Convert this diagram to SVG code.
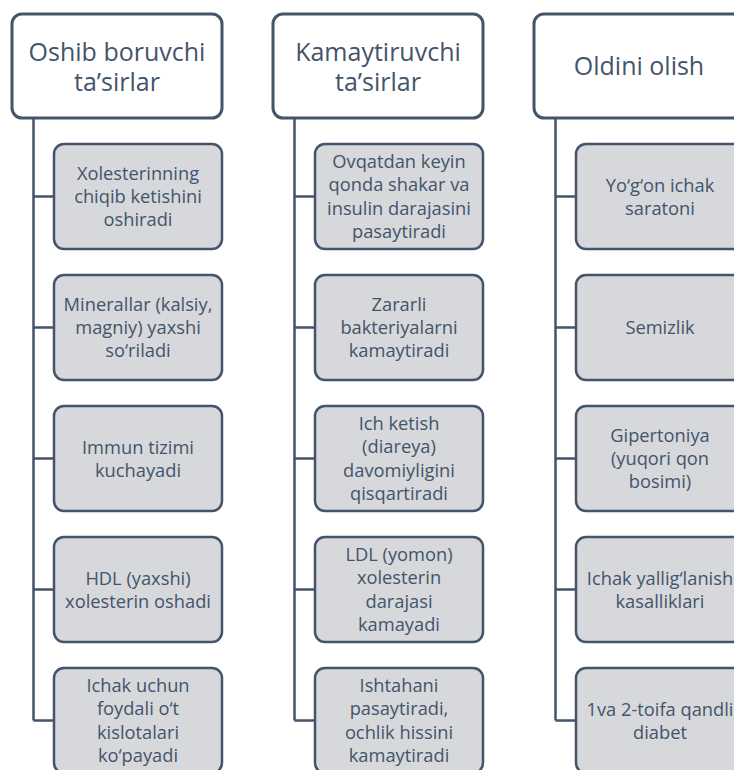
<svg xmlns="http://www.w3.org/2000/svg" width="734" height="770" viewBox="0 0 734 770">
<style>
.hdr{fill:#ffffff;stroke:#44546A;stroke-width:3}
.box{fill:#D6D8DC;stroke:#44546A;stroke-width:2.5}
.ln{stroke:#44546A;stroke-width:2.5;fill:none}
.ht{font-family:"Open Sans","Liberation Sans",sans-serif;font-size:25px;fill:#44546A;text-anchor:middle}
.bt{font-family:"Open Sans","Liberation Sans",sans-serif;font-size:18.3px;fill:#44546A;text-anchor:middle}
</style>
<rect width="734" height="770" fill="#ffffff"/>
<g id="connectors">
<path class="ln" d="M33.5,118 V720.5 M33.5,196.5 H54 M33.5,327.5 H54 M33.5,458.5 H54 M33.5,589.5 H54 M33.5,720.5 H54"/>
<path class="ln" d="M294.5,118 V720.5 M294.5,196.5 H315 M294.5,327.5 H315 M294.5,458.5 H315 M294.5,589.5 H315 M294.5,720.5 H315"/>
<path class="ln" d="M555.5,118 V720.5 M555.5,196.5 H576 M555.5,327.5 H576 M555.5,458.5 H576 M555.5,589.5 H576 M555.5,720.5 H576"/>
</g>
<g id="h1"><rect class="hdr" x="12" y="14" width="210" height="104" rx="10"/><text class="ht" x="117" y="60.5">Oshib boruvchi</text><text class="ht" x="117" y="90.5">ta’sirlar</text></g>
<g id="h2"><rect class="hdr" x="273" y="14" width="210" height="104" rx="10"/><text class="ht" x="378" y="60.5">Kamaytiruvchi</text><text class="ht" x="378" y="90.5">ta’sirlar</text></g>
<g id="h3"><rect class="hdr" x="534" y="14" width="210" height="104" rx="10"/><text class="ht" x="639" y="75">Oldini olish</text></g>

<g id="a1"><rect class="box" x="54" y="144" width="168" height="105" rx="10"/><text class="bt" x="138" y="180">Xolesterinning</text><text class="bt" x="138" y="203">chiqib ketishini</text><text class="bt" x="138" y="226">oshiradi</text></g>
<g id="a2"><rect class="box" x="54" y="275" width="168" height="105" rx="10"/><text class="bt" x="138" y="311">Minerallar (kalsiy,</text><text class="bt" x="138" y="334">magniy) yaxshi</text><text class="bt" x="138" y="357">so‘riladi</text></g>
<g id="a3"><rect class="box" x="54" y="406" width="168" height="105" rx="10"/><text class="bt" x="138" y="453.5">Immun tizimi</text><text class="bt" x="138" y="476.5">kuchayadi</text></g>
<g id="a4"><rect class="box" x="54" y="537" width="168" height="105" rx="10"/><text class="bt" x="138" y="584.5">HDL (yaxshi)</text><text class="bt" x="138" y="607.5">xolesterin oshadi</text></g>
<g id="a5"><rect class="box" x="54" y="668" width="168" height="105" rx="10"/><text class="bt" x="138" y="692">Ichak uchun</text><text class="bt" x="138" y="715.3">foydali o‘t</text><text class="bt" x="138" y="738.6">kislotalari</text><text class="bt" x="138" y="762">ko‘payadi</text></g>

<g id="b1"><rect class="box" x="315" y="144" width="168" height="105" rx="10"/><text class="bt" x="399" y="168">Ovqatdan keyin</text><text class="bt" x="399" y="191.3">qonda shakar va</text><text class="bt" x="399" y="214.6">insulin darajasini</text><text class="bt" x="399" y="238">pasaytiradi</text></g>
<g id="b2"><rect class="box" x="315" y="275" width="168" height="105" rx="10"/><text class="bt" x="399" y="311">Zararli</text><text class="bt" x="399" y="334">bakteriyalarni</text><text class="bt" x="399" y="357">kamaytiradi</text></g>
<g id="b3"><rect class="box" x="315" y="406" width="168" height="105" rx="10"/><text class="bt" x="399" y="430">Ich ketish</text><text class="bt" x="399" y="453.3">(diareya)</text><text class="bt" x="399" y="476.6">davomiyligini</text><text class="bt" x="399" y="500">qisqartiradi</text></g>
<g id="b4"><rect class="box" x="315" y="537" width="168" height="105" rx="10"/><text class="bt" x="399" y="561">LDL (yomon)</text><text class="bt" x="399" y="584.3">xolesterin</text><text class="bt" x="399" y="607.6">darajasi</text><text class="bt" x="399" y="631">kamayadi</text></g>
<g id="b5"><rect class="box" x="315" y="668" width="168" height="105" rx="10"/><text class="bt" x="399" y="692">Ishtahani</text><text class="bt" x="399" y="715.3">pasaytiradi,</text><text class="bt" x="399" y="738.6">ochlik hissini</text><text class="bt" x="399" y="762">kamaytiradi</text></g>

<g id="c1"><rect class="box" x="576" y="144" width="168" height="105" rx="10"/><text class="bt" x="660" y="191.5">Yo‘g‘on ichak</text><text class="bt" x="660" y="214.5">saratoni</text></g>
<g id="c2"><rect class="box" x="576" y="275" width="168" height="105" rx="10"/><text class="bt" x="660" y="334">Semizlik</text></g>
<g id="c3"><rect class="box" x="576" y="406" width="168" height="105" rx="10"/><text class="bt" x="660" y="442">Gipertoniya</text><text class="bt" x="660" y="465">(yuqori qon</text><text class="bt" x="660" y="488">bosimi)</text></g>
<g id="c4"><rect class="box" x="576" y="537" width="168" height="105" rx="10"/><text class="bt" x="660" y="584.5">Ichak yallig‘lanish</text><text class="bt" x="660" y="607.5">kasalliklari</text></g>
<g id="c5"><rect class="box" x="576" y="668" width="168" height="105" rx="10"/><text class="bt" x="660" y="715.5">1va 2-toifa qandli</text><text class="bt" x="660" y="738.5">diabet</text></g>
</svg>
